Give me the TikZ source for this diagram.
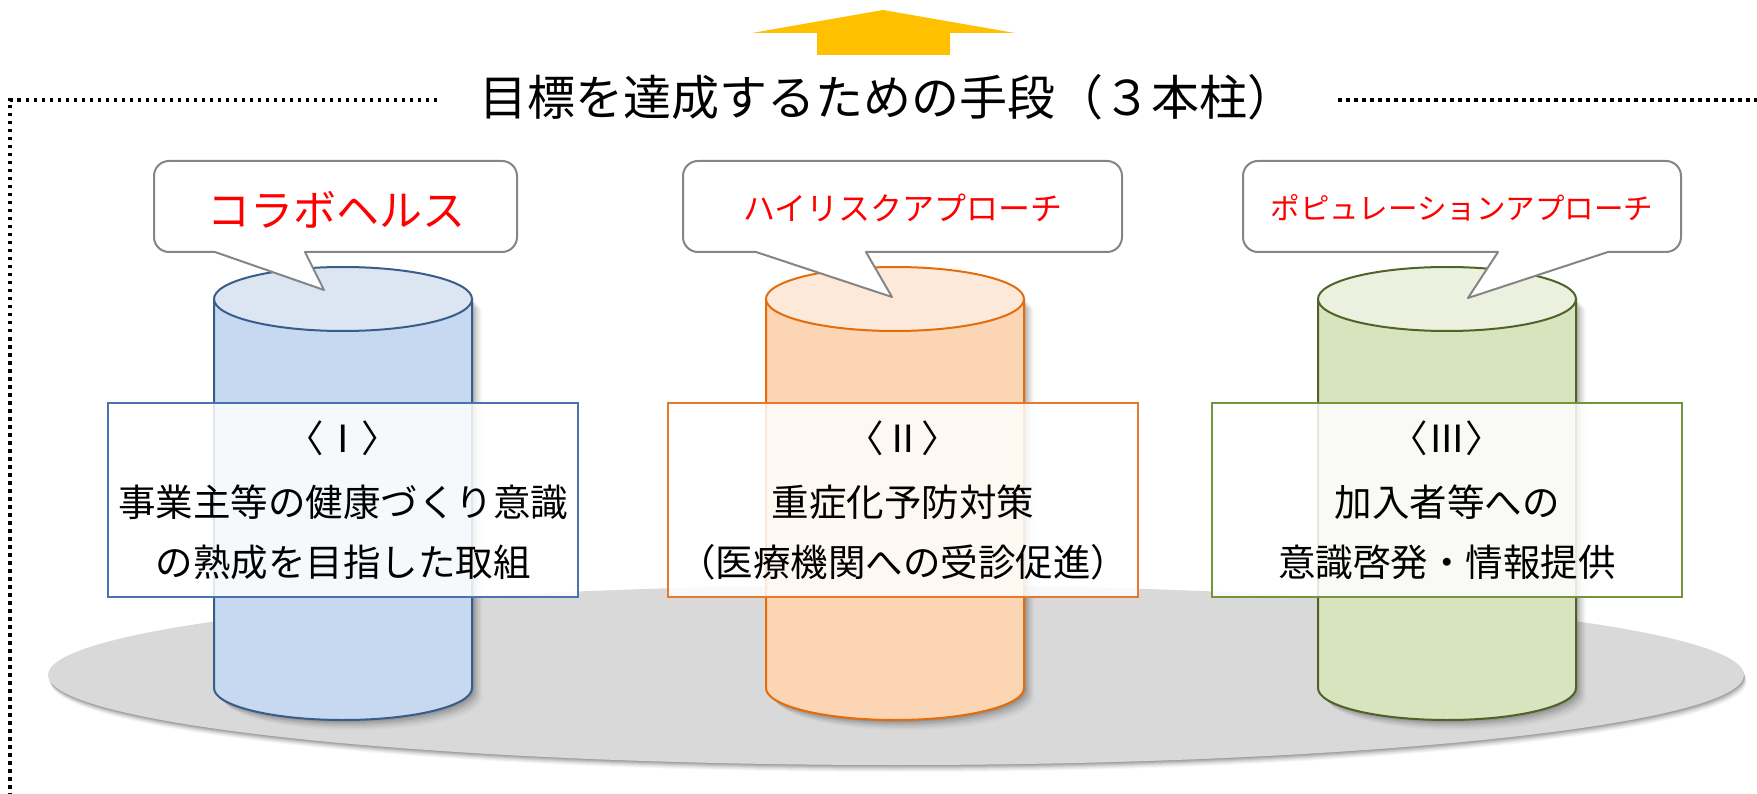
\documentclass[tikz,border=0pt]{standalone}
\usepackage{fontspec}
\newfontfamily\jp{Noto Sans CJK JP}
\definecolor{arrowc}{HTML}{FFC000}
\definecolor{platform}{HTML}{D9D9D9}
\definecolor{bubbleline}{HTML}{858585}
\definecolor{cbody1}{HTML}{C6D9F1}
\definecolor{ctop1}{HTML}{DCE6F2}
\definecolor{cline1}{HTML}{385D8A}
\definecolor{bline1}{HTML}{4A72AE}
\definecolor{cbody2}{HTML}{FCD5B5}
\definecolor{ctop2}{HTML}{FDE9D9}
\definecolor{cline2}{HTML}{E46C0A}
\definecolor{bline2}{HTML}{E8782A}
\definecolor{cbody3}{HTML}{D7E4BD}
\definecolor{ctop3}{HTML}{EBF1DE}
\definecolor{cline3}{HTML}{4F6228}
\definecolor{bline3}{HTML}{77933C}
\newcommand\pillar[4]{%
  \foreach \s/\o in {2/0.10,4/0.09,6/0.07,8/0.05,10/0.03}{%
    \fill[black,opacity=\o,shift={(\s,\s)}] ({#1-129},299) -- ({#1-129},688)
      arc[start angle=180,end angle=0,x radius=129,y radius=32] -- ({#1+129},299) -- cycle;}
  \draw[fill=#2,draw=#4,line width=2pt] ({#1-129},299) -- ({#1-129},688)
      arc[start angle=180,end angle=0,x radius=129,y radius=32] -- ({#1+129},299) -- cycle;
  \draw[fill=#3,draw=#4,line width=2pt] (#1,299) ellipse[x radius=129,y radius=32];
}
\begin{document}
\begin{tikzpicture}[x=1pt,y=-1pt,
  dotframe/.style={line width=3.5pt,dash pattern=on 3.5pt off 4.5pt,black},
  bubble/.style={fill=white,draw=bubbleline,line width=2pt,line join=round},
  boxstyle/.style={fill=white,fill opacity=0.85,line width=2pt,minimum width=470pt,minimum height=194pt,inner sep=0pt},
  boxtxt/.style={font=\jp\fontsize{37.5}{40}\selectfont,text height=33pt,text depth=4.5pt,inner sep=0pt},
  titletxt/.style={font=\jp\fontsize{48}{51}\selectfont,text height=42.2pt,text depth=5.8pt,inner sep=0pt},
  bubtxt/.style={text=red,inner sep=0pt}]
\useasboundingbox (0,0) rectangle (1757,794);
% dotted frame
\coordinate (fl) at (437,100);
\coordinate (fc) at (10,100);
\coordinate (fb) at (10,794);
\coordinate (fr) at (1338,100);
\coordinate (fe) at (1757,100);
\draw[dotframe] (fl) -- (fc) -- (fb);
\draw[dotframe] (fr) -- (fe);
% arrow
\fill[arrowc] (883,10) -- (1015,33) -- (950,33) -- (950,55) -- (817,55) -- (817,33) -- (752,33) -- cycle;
% title
\node[titletxt] (title) at (887,97) {目標を達成するための手段（３本柱）};
% platform
\foreach \i/\o in {1/0.10,2/0.09,3/0.08,4/0.06,5/0.05,6/0.04,7/0.03}{%
  \fill[black,opacity=\o] (896+\i*0.4,675+\i) ellipse[x radius=848,y radius=90];}
\fill[platform] (896,675) ellipse[x radius=848,y radius=90];
% pillars
\pillar{343}{cbody1}{ctop1}{cline1}
\pillar{895}{cbody2}{ctop2}{cline2}
\pillar{1447}{cbody3}{ctop3}{cline3}
% bubbles
\draw[bubble] (215,252) -- (324,290) -- (305,252) [rounded corners=15pt] -- (517,252) -- (517,161) -- (154,161) -- (154,252) [sharp corners] -- cycle;
\draw[bubble] (756,252) -- (892,297) -- (866,252) [rounded corners=15pt] -- (1122,252) -- (1122,161) -- (683,161) -- (683,252) [sharp corners] -- cycle;
\draw[bubble] (1498,252) -- (1468,298) -- (1608,252) [rounded corners=15pt] -- (1681,252) -- (1681,161) -- (1243,161) -- (1243,252) [sharp corners] -- cycle;
\node[bubtxt,font=\jp\fontsize{43}{46}\selectfont,text height=37.8pt,text depth=5.2pt] (p1) at (336,210) {コラボヘルス};
\node[bubtxt,font=\jp\fontsize{32}{35}\selectfont,text height=28.2pt,text depth=3.8pt] (p2) at (903,208) {ハイリスクアプローチ};
\node[bubtxt,font=\jp\fontsize{29.5}{32}\selectfont,text height=26pt,text depth=3.5pt] (p3) at (1462,208) {ポピュレーションアプローチ};
% boxes
\node[boxstyle,draw=bline1] (box1) at (343,500) {};
\node[boxstyle,draw=bline2] (box2) at (903,500) {};
\node[boxstyle,draw=bline3] (box3) at (1447,500) {};
% box texts
\node[boxtxt] (a1) at (343,438) {〈Ⅰ〉};
\node[boxtxt] (a2) at (343,502) {事業主等の健康づくり意識};
\node[boxtxt] (a3) at (343,562) {の熟成を目指した取組};
\node[boxtxt] (b1) at (903,438) {〈Ⅱ〉};
\node[boxtxt] (b2) at (903,502) {重症化予防対策};
\node[boxtxt] (b3) at (903,562) {（医療機関への受診促進）};
\node[boxtxt] (c1) at (1447,438) {〈Ⅲ〉};
\node[boxtxt] (c2) at (1447,502) {加入者等への};
\node[boxtxt] (c3) at (1447,562) {意識啓発・情報提供};
\end{tikzpicture}
\end{document}
